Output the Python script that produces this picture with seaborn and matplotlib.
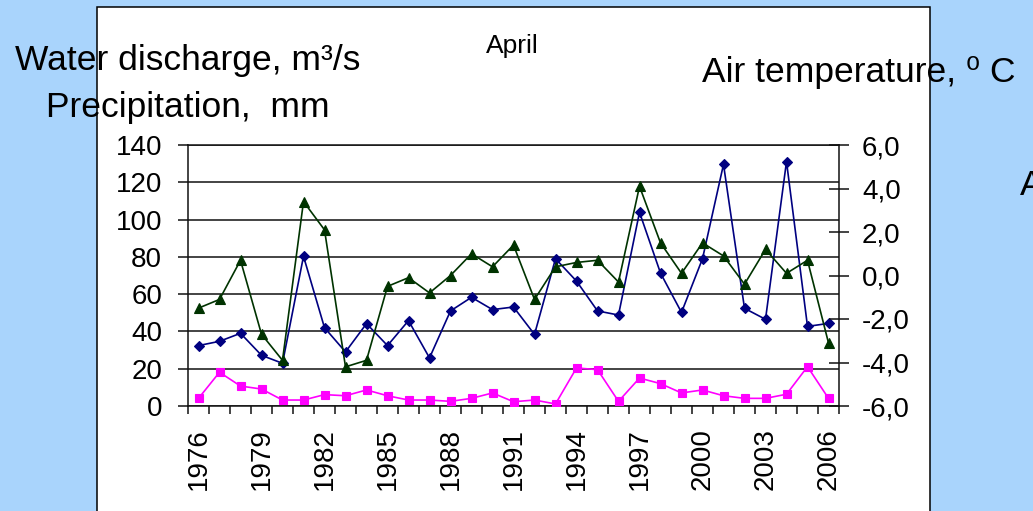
import matplotlib
matplotlib.use("Agg")
import matplotlib.pyplot as plt
import matplotlib.patches as mpatches
import seaborn as sns


YEARS = list(range(1976, 2007))

# water discharge, m3/s (left axis)
DISCHARGE = [32.4, 34.7, 39.0, 27.2, 22.9, 80.3, 42.0, 29.0, 44.2, 32.4,
             45.8, 25.8, 51.0, 58.3, 51.7, 53.1, 38.4, 79.0, 67.0, 51.0,
             48.8, 103.9, 71.3, 50.2, 79.0, 129.6, 52.4, 46.5, 131.1, 42.7,
             44.3]

# precipitation, mm (left axis)
PRECIP = [4.1, 18.1, 10.7, 9.1, 3.2, 3.2, 6.1, 5.5, 8.6, 5.5,
          3.2, 3.2, 2.5, 4.1, 7.0, 2.3, 3.2, 1.1, 20.4, 19.5,
          2.5, 15.0, 12.0, 7.0, 8.6, 5.5, 4.1, 4.1, 6.3, 21.1,
          4.1]

# air temperature, deg C (right axis)
TEMP = [-1.5, -1.1, 0.7, -2.7, -3.9, 3.4, 2.1, -4.2, -3.9, -0.5,
        -0.1, -0.8, 0.0, 1.0, 0.4, 1.4, -1.1, 0.4, 0.6, 0.7,
        -0.3, 4.1, 1.5, 0.1, 1.5, 0.9, -0.4, 1.2, 0.1, 0.7,
        -3.1]

LEFT_TICKS = list(range(0, 141, 20))
RIGHT_TICKS = [-6, -4, -2, 0, 2, 4, 6]
YEAR_LABELS = list(range(1976, 2007, 3))

BG = "#a9d4fc"
INK = "#111111"
W, H = 1033, 511


def fx(px):
    return px / W


def fy(py):
    return 1 - py / H


sns.set_style("white")
plt.rcParams["font.family"] = ["Liberation Sans", "DejaVu Sans"]
plt.rcParams["text.color"] = "black"
plt.rcParams["xtick.color"] = "black"
plt.rcParams["ytick.color"] = "black"
plt.rcParams["axes.labelcolor"] = "black"

fig = plt.figure(figsize=(W / 100, H / 100), dpi=100, facecolor=BG)

# white slide box behind the chart
box = mpatches.Rectangle((fx(97), -0.05), fx(930) - fx(97), fy(7.5) + 0.05,
                         transform=fig.transFigure, facecolor="white",
                         edgecolor="black", linewidth=1.1, zorder=-1)
fig.add_artist(box)

ax = fig.add_axes([fx(188), fy(406), fx(839) - fx(188), fy(145) - fy(406)])
ax.set_facecolor("none")
ax2 = ax.twinx()

sns.lineplot(x=YEARS, y=DISCHARGE, ax=ax, color="#000080", marker="D",
             markersize=4.8, mec="#000080", mew=0.8, linewidth=1.2, zorder=4)
sns.lineplot(x=YEARS, y=PRECIP, ax=ax, color="#ff00ff", marker="s",
             markersize=5.8, mec="#ff00ff", mew=0.8, linewidth=1.2, zorder=4)
sns.lineplot(x=YEARS, y=TEMP, ax=ax2, color="#003300", marker="^",
             markersize=7.0, mec="#003300", mew=0.8, linewidth=1.2, zorder=3)

ax.set_xlim(1975.5, 2006.5)
ax.set_ylim(0, 140)
ax2.set_ylim(-6, 6)

ax.set_yticks(LEFT_TICKS)
ax.set_yticklabels([str(v) for v in LEFT_TICKS])
ax.yaxis.grid(True, color=INK, linewidth=1.1)
ax.set_axisbelow(True)

ax2.set_yticks(RIGHT_TICKS)
ax2.set_yticklabels([f"{v:.1f}".replace(".", ",") for v in RIGHT_TICKS])

ax.set_xticks(YEAR_LABELS)
ax.set_xticklabels([str(y) for y in YEAR_LABELS], rotation=90)
ax.set_xticks([y - 0.5 for y in YEARS] + [YEARS[-1] + 0.5], minor=True)

ax.tick_params(axis="x", which="major", length=0, pad=16, labelsize=20)
ax.tick_params(axis="x", which="minor", length=6, width=1.1,
               direction="out", color=INK, bottom=True)
ax.tick_params(axis="y", length=7.2, width=1.1, direction="out",
               color=INK, pad=11.5, labelsize=20, left=True)
ax2.tick_params(axis="y", length=14.4, width=1.1, direction="inout",
                color=INK, pad=9.4, labelsize=20, right=True)

for name, sp in ax.spines.items():
    sp.set_color(INK)
    sp.set_linewidth(1.1)
    sp.set_visible(name in ("left", "bottom", "top"))
for name, sp in ax2.spines.items():
    sp.set_color(INK)
    sp.set_linewidth(1.1)
    sp.set_visible(name == "right")

ax.set_xlabel("")
ax.set_ylabel("")
ax2.set_ylabel("")

fig.text(fx(15), fy(70), "Water discharge, m³/s", fontsize=25.5,
         ha="left", va="baseline")
fig.text(fx(46), fy(117), "Precipitation,  mm", fontsize=25.5,
         ha="left", va="baseline")
fig.text(fx(486), fy(53), "April", fontsize=19, ha="left", va="baseline")
fig.text(fx(702), fy(82), "Air temperature, ⁰ C", fontsize=25.5,
         ha="left", va="baseline")
fig.text(fx(1020), fy(195), "A", fontsize=25.5, ha="left", va="baseline")

fig.savefig("out.png", dpi=100, facecolor=fig.get_facecolor())
